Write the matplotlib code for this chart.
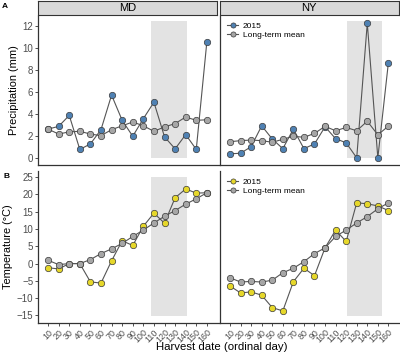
import numpy as np
import matplotlib.pyplot as plt

plt.rcParams['font.family'] = ['Liberation Sans', 'DejaVu Sans']

# harvest dates (ordinal day)
days = [10, 20, 30, 40, 50, 60, 70, 80, 90, 100, 110, 120, 130, 140, 150, 160]
sites = ['MD', 'NY']

# precipitation (mm)
prec_2015 = {
    'MD': [2.65, 2.9, 3.9, 0.8, 1.3, 2.6, 5.75, 3.45, 2.0, 3.6, 5.1, 1.95, 0.85, 2.15, 0.8, 10.6],
    'NY': [0.4, 0.45, 1.05, 2.95, 1.75, 0.87, 2.65, 0.87, 1.3, 2.86, 1.78, 1.4, 0.03, 12.3, 0.03, 8.7],
}
prec_mean = {
    'MD': [2.65, 2.2, 2.4, 2.45, 2.2, 2.05, 2.6, 2.95, 3.3, 2.95, 2.45, 2.85, 3.15, 3.75, 3.45, 3.5],
    'NY': [1.5, 1.6, 1.65, 1.6, 1.45, 1.72, 2.0, 1.9, 2.26, 2.9, 2.5, 2.8, 2.5, 3.37, 2.13, 2.92],
}

# temperature (C)
temp_2015 = {
    'MD': [-1.2, -1.55, 0.0, 0.0, -5.3, -5.65, 0.8, 6.6, 5.25, 10.8, 14.6, 11.7, 19.05, 21.6, 20.4, 20.5],
    'NY': [-6.5, -8.5, -8.2, -9.15, -12.75, -13.7, -5.25, -1.35, -3.5, 4.55, 9.7, 6.4, 17.6, 17.3, 16.7, 15.35],
}
temp_mean = {
    'MD': [0.95, -0.3, 0.0, 0.0, 1.15, 2.9, 4.25, 5.85, 7.85, 9.7, 11.75, 13.7, 15.35, 17.2, 18.75, 20.5],
    'NY': [-4.1, -5.35, -5.15, -5.35, -4.8, -2.65, -1.35, 0.55, 2.9, 4.55, 7.85, 9.7, 11.75, 13.6, 15.85, 17.6],
}

# shaded harvest window per site
window = {'MD': (107, 141), 'NY': (121, 154)}

W, H = 400, 353
fig = plt.figure(figsize=(W / 100, H / 100), dpi=100)

def box(x0, y0, x1, y1):
    # pixel box (top-left origin) -> figure fraction
    return [x0 / W, 1 - y1 / H, (x1 - x0) / W, (y1 - y0) / H]

line_col = '#555555'
blue = '#4f81b3'
yellow = '#e6d72a'
grey = '#a6a6a6'
edge = '#3a3a3a'

panel_x = {'MD': (38, 218.5), 'NY': (220, 400)}

for i, site in enumerate(sites):
    x0, x1 = panel_x[site]
    axA = fig.add_axes(box(x0, 15.5, x1, 165))
    axB = fig.add_axes(box(x0, 171, x1, 323))

    for ax, y15, ymean, col, shade, ylim, yt, ylab in [
        (axA, prec_2015[site], prec_mean[site], blue, (0, 12.5), (-0.62, 13.0),
         [0, 2, 4, 6, 8, 10, 12], 'Precipitation (mm)'),
        (axB, temp_2015[site], temp_mean[site], yellow, (-15.3, 25), (-17.2, 26.8),
         [-15, -10, -5, 0, 5, 10, 15, 20, 25], 'Temperature (°C)'),
    ]:
        w0, w1 = window[site]
        ax.fill_between([w0, w1], shade[0], shade[1], color='#e3e3e3', lw=0, zorder=0)
        ax.plot(days, y15, '-o', color=line_col, lw=0.8, ms=4.6, mfc=col,
                mec=edge, mew=0.5, label='2015', zorder=3)
        ax.plot(days, ymean, '-o', color=line_col, lw=0.8, ms=4.6, mfc=grey,
                mec=edge, mew=0.5, label='Long-term mean', zorder=4)
        ax.set_xlim(0.5, 171)
        ax.set_ylim(*ylim)
        ax.set_yticks(yt)
        for s in ['top', 'right']:
            ax.spines[s].set_visible(False)
        for s in ['left', 'bottom']:
            ax.spines[s].set_linewidth(0.9)
            ax.spines[s].set_color('#333333')
        ax.tick_params(axis='both', length=2, width=0.6, colors='#333333',
                       labelsize=7, labelcolor='#4d4d4d', pad=1.5)
        if i == 0:
            ax.set_ylabel(ylab, fontsize=7.9, labelpad=2.5)
        else:
            ax.tick_params(axis='y', length=0, labelleft=False)
            ax.legend(loc='upper left', frameon=False, fontsize=6, handlelength=1.4,
                      handletextpad=0.5, labelspacing=0.15, borderaxespad=0.4,
                      bbox_to_anchor=(0.0, 1.0), markerscale=0.8)

    axA.set_xticks([])
    axB.set_xticks(days)
    axB.set_xticklabels([str(d) for d in days], rotation=45, ha='right',
                        va='top', rotation_mode='anchor', fontsize=6.4)

    # facet strip
    sx0, sx1 = x0, x1 - 1.5
    sax = fig.add_axes(box(sx0, 1, sx1, 14.5))
    sax.set_xticks([])
    sax.set_yticks([])
    sax.set_facecolor('#d9d9d9')
    for s in sax.spines.values():
        s.set_linewidth(0.8)
        s.set_color('#333333')
    sax.text(0.5, 0.45, site, ha='center', va='center', fontsize=8,
             transform=sax.transAxes)

fig.text(2 / W, 1 - 6 / H, 'A', fontsize=6, fontweight='bold', va='center')
fig.text(3 / W, 1 - 177 / H, 'B', fontsize=6, fontweight='bold', va='center')
fig.text(222 / W, 1 - 346.5 / H, 'Harvest date (ordinal day)', fontsize=8.2,
         ha='center', va='center')

fig.savefig('out.png', dpi=100)
